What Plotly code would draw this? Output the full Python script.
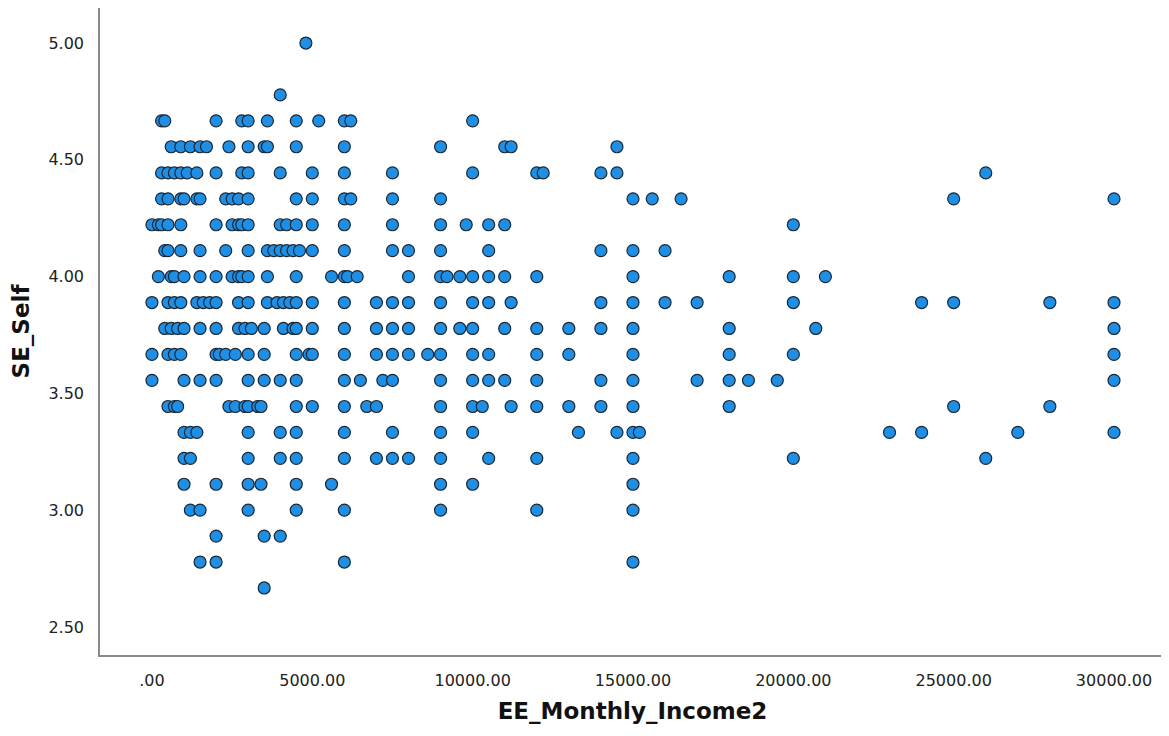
import plotly.graph_objects as go

# SE_Self levels (multiples of 1/9) and the incomes observed at each level
se_levels = [5.000, 4.778, 4.667, 4.556, 4.444, 4.333, 4.222, 4.111, 4.000, 3.889,
             3.778, 3.667, 3.556, 3.444, 3.333, 3.222, 3.111, 3.000, 2.889, 2.778, 2.667]

inc_5_00 = [4800]
inc_4_78 = [4000]
inc_4_67 = [300, 400, 2000, 2800, 3000, 3600, 4500, 5200, 6000, 6200, 10000]
inc_4_56 = [600, 900, 1200, 1500, 1700, 2400, 3000, 3500, 3600, 4500, 6000, 9000, 11000, 11200, 14500]
inc_4_44 = [300, 500, 700, 900, 1100, 1400, 2000, 2800, 3000, 4000, 5000, 6000, 7500, 10000,
            12000, 12200, 14000, 14500, 26000]
inc_4_33 = [300, 500, 900, 1000, 1400, 1500, 2300, 2500, 2700, 3000, 4500, 5000, 6000, 6200, 7500,
            9000, 15000, 15600, 16500, 25000, 30000]
inc_4_22 = [0, 200, 300, 500, 900, 2000, 2500, 2700, 2800, 3000, 4000, 4200, 4500, 5000, 6000, 7500,
            9000, 9800, 10500, 11000, 20000]
inc_4_11 = [400, 500, 900, 1500, 2300, 3000, 3600, 3800, 4000, 4200, 4400, 4600, 5000, 6000, 7500,
            8000, 9000, 10500, 14000, 15000, 16000]
inc_4_00 = [200, 600, 700, 1000, 1500, 2000, 2500, 2700, 2800, 3000, 3600, 4500, 5600, 6000, 6100,
            6400, 8000, 9000, 9200, 9600, 10000, 10500, 11000, 12000, 15000, 18000, 20000, 21000]
inc_3_89 = [0, 500, 700, 900, 1400, 1600, 1800, 2000, 2700, 3000, 3600, 3900, 4100, 4300, 4500, 5000,
            6000, 7000, 7500, 8000, 9000, 10000, 10500, 11200, 14000, 15000, 16000, 17000, 20000,
            24000, 25000, 28000, 30000]
inc_3_78 = [400, 600, 800, 1000, 1500, 2000, 2700, 2900, 3100, 3500, 4100, 4400, 4500, 5000, 6000,
            7000, 7500, 8000, 9000, 9600, 10000, 11000, 12000, 13000, 14000, 15000, 18000, 20700, 30000]
inc_3_67 = [0, 500, 700, 900, 2000, 2100, 2300, 2600, 3000, 3500, 4500, 4900, 5000, 6000, 7000, 7500,
            8000, 8600, 9000, 10000, 10500, 12000, 13000, 15000, 18000, 20000, 30000]
inc_3_56 = [0, 1000, 1500, 2000, 3000, 3500, 4000, 4500, 6000, 6500, 7200, 7500, 9000, 10000, 10500,
            11000, 12000, 14000, 15000, 17000, 18000, 18600, 19500, 30000]
inc_3_44 = [500, 700, 800, 2400, 2600, 2900, 3000, 3300, 3400, 4500, 5000, 6000, 6700, 7000, 9000,
            10000, 10300, 11200, 12000, 13000, 14000, 15000, 18000, 25000, 28000]
inc_3_33 = [1000, 1200, 1400, 3000, 4000, 4500, 6000, 7500, 9000, 10000, 13300, 14500, 15000, 15200,
            23000, 24000, 27000, 30000]
inc_3_22 = [1000, 1200, 3000, 4000, 4500, 6000, 7000, 7500, 8000, 9000, 10500, 12000, 15000, 20000, 26000]
inc_3_11 = [1000, 2000, 3000, 3400, 4500, 5600, 9000, 10000, 15000]
inc_3_00 = [1200, 1500, 3000, 4500, 6000, 9000, 12000, 15000]
inc_2_89 = [2000, 3500, 4000]
inc_2_78 = [1500, 2000, 6000, 15000]
inc_2_67 = [3500]

incomes_by_level = [inc_5_00, inc_4_78, inc_4_67, inc_4_56, inc_4_44, inc_4_33, inc_4_22, inc_4_11,
                    inc_4_00, inc_3_89, inc_3_78, inc_3_67, inc_3_56, inc_3_44, inc_3_33, inc_3_22,
                    inc_3_11, inc_3_00, inc_2_89, inc_2_78, inc_2_67]

x_tick_vals = [0, 5000, 10000, 15000, 20000, 25000, 30000]
x_tick_text = [".00", "5000.00", "10000.00", "15000.00", "20000.00", "25000.00", "30000.00"]
y_tick_vals = [2.5, 3.0, 3.5, 4.0, 4.5, 5.0]
y_tick_text = ["2.50", "3.00", "3.50", "4.00", "4.50", "5.00"]

xs, ys = [], []
for lvl, incs in zip(se_levels, incomes_by_level):
    for v in incs:
        xs.append(v)
        ys.append(lvl)

FONT = "DejaVu Sans, Arial, sans-serif"

fig = go.Figure(go.Scatter(
    x=xs, y=ys, mode="markers",
    marker=dict(size=12, color="#1f8fe5", line=dict(color="#1b2733", width=1.2)),
    hoverinfo="x+y", showlegend=False,
))

# the page body keeps its default 8px margin, so the figure is sized to fit inside it
fig.update_layout(
    width=1161, height=728,
    margin=dict(l=92, r=4, t=0, b=81),
    paper_bgcolor="white", plot_bgcolor="white",
    font=dict(family=FONT, color="#222222"),
)
fig.update_xaxes(
    range=[-1620, 31590], showgrid=False, zeroline=False,
    showline=True, linecolor="#8a8a8a", linewidth=1.5,
    tickmode="array", tickvals=x_tick_vals, ticktext=x_tick_text,
    ticks="", tickfont=dict(size=16, color="#222222", family=FONT),
    ticklabelstandoff=10,
    title=dict(text="<b>EE_Monthly_Income2</b>", font=dict(size=23, family=FONT, color="#111111"), standoff=14),
)
fig.update_yaxes(
    range=[2.38, 5.15], showgrid=False, zeroline=False,
    showline=True, linecolor="#8a8a8a", linewidth=1.5,
    tickmode="array", tickvals=y_tick_vals, ticktext=y_tick_text,
    ticks="", tickfont=dict(size=16, color="#222222", family=FONT),
    ticklabelstandoff=11,
    title=dict(text="<b>SE_Self</b>", font=dict(size=23, family=FONT, color="#111111"), standoff=18),
)

fig.write_html("out.html")
